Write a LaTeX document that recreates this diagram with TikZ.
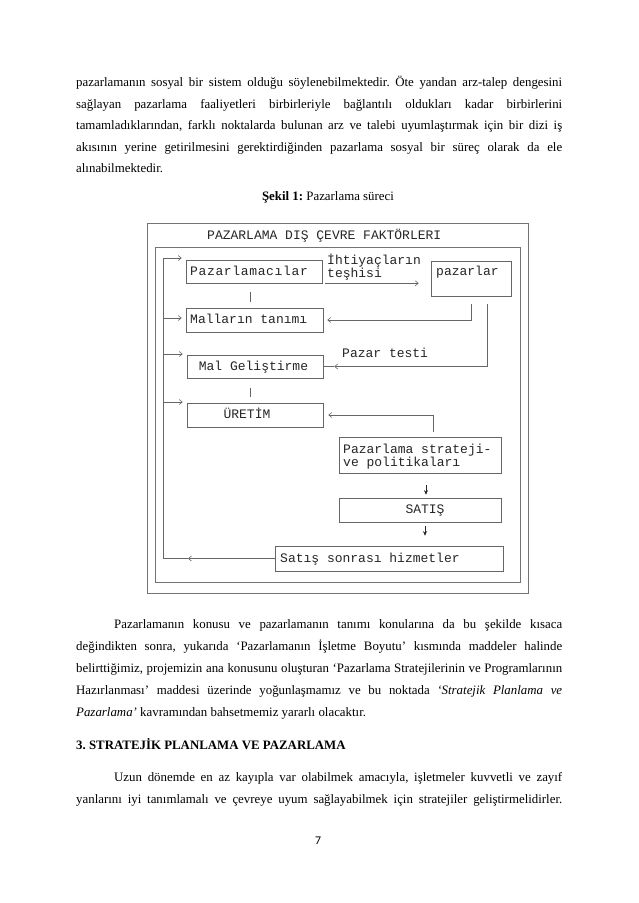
\documentclass[tikz,border=0pt]{standalone}
\usepackage{fontspec}
\setmainfont{Liberation Serif}
\newfontfamily\monofnt{Liberation Mono}
\newfontfamily\pgfnt{Carlito}
\usetikzlibrary{arrows.meta}
\frenchspacing
\newcommand\mybody{\fontsize{12.87pt}{15pt}\selectfont}
\newcommand\mymono{\monofnt\fontsize{13pt}{13pt}\selectfont}
\newcommand\jl[2]{\hbox to #1{\spaceskip=0.25em plus 2em minus 0.12em\relax #2}}
\begin{document}
\begin{tikzpicture}[x=1pt,y=-1pt,
  txt/.style={anchor=base west, inner sep=0pt, font=\mybody},
  fr/.style={draw=black!55, line width=0.6pt},
  box/.style={draw=black!60, line width=0.6pt, inner sep=0pt},
  dtxt/.style={anchor=base west, font=\mymono, text=black!85, inner sep=0pt},
  arr/.style={draw=black!60, line width=0.6pt, -{Straight Barb[length=3pt,width=5pt]}},
  darr/.style={draw=black!85, line width=0.9pt, -{Stealth[length=4.5pt,width=4pt]}},
  ln/.style={draw=black!60, line width=0.6pt}]
\useasboundingbox (0,0) rectangle (638,903);
\fill[white] (0,0) rectangle (638,903);

% paragraph 1
\node[txt] (a1) at (76,86.5) {\jl{486pt}{pazarlamanın sosyal bir sistem olduğu söylenebilmektedir. Öte yandan arz-talep dengesini}};
\node[txt] (a2) at (76,108) {\jl{486pt}{sağlayan pazarlama faaliyetleri birbirleriyle bağlantılı oldukları kadar birbirlerini}};
\node[txt] (a3) at (76,129.5) {\jl{486pt}{tamamladıklarından, farklı noktalarda bulunan arz ve talebi uyumlaştırmak için bir dizi iş}};
\node[txt] (a4) at (76,151) {\jl{486pt}{akısının yerine getirilmesini gerektirdiğinden pazarlama sosyal bir süreç olarak da ele}};
\node[txt] (a5) at (76,172.5) {alınabilmektedir.};

% caption
\node[anchor=base, inner sep=0pt, font=\mybody] (cap) at (328,200.5) {\textbf{Şekil 1:} Pazarlama süreci};

% frames
\draw[fr] (147,223) rectangle (528,593);
\draw[fr] (155,247) rectangle (520,582);
\node[dtxt] (title) at (207,239.5) {PAZARLAMA DIŞ ÇEVRE FAKTÖRLERI};

% boxes
\node[box, minimum width=136pt, minimum height=23pt] (pzc) at (254,271.5) {};
\node[box, minimum width=137pt, minimum height=24pt] (mal) at (254.5,320) {};
\node[box, minimum width=136pt, minimum height=23pt] (gel) at (255,366.5) {};
\node[box, minimum width=136pt, minimum height=24pt] (ure) at (255,415) {};
\node[box, minimum width=80pt, minimum height=35pt] (paz) at (471,278.5) {};
\node[box, minimum width=162pt, minimum height=36pt] (str) at (420,455) {};
\node[box, minimum width=162pt, minimum height=24pt] (sat) at (420,510) {};
\node[box, minimum width=228pt, minimum height=25pt] (hiz) at (389,558.5) {};

% box texts
\node[dtxt] (tpzc) at (190,275.5) {\addfontfeature{LetterSpace=5}Pazarlamacılar};
\node[dtxt] (tmal) at (190,323.5) {Malların tanımı};
\node[dtxt, anchor=base] (tgel) at (253.5,370) {Mal Geliştirme};
\node[dtxt, anchor=base] (ture) at (247,418.5) {ÜRETİM};
\node[dtxt] (tpaz) at (436,275.5) {pazarlar};
\node[dtxt] (tstr1) at (343,453.5) {Pazarlama strateji-};
\node[dtxt] (tstr2) at (343,466) {ve politikaları};
\node[dtxt, anchor=base] (tsat) at (425,513.5) {SATIŞ};
\node[dtxt] (thiz) at (280,562) {Satış sonrası hizmetler};
\node[dtxt] (tiht1) at (327,264.5) {İhtiyaçların};
\node[dtxt] (tiht2) at (327,277) {teşhisi};
\node[dtxt] (ttest) at (342,357.5) {Pazar testi};

% connectors
\draw[arr] ([xshift=3pt]pzc.south east) -- ([xshift=-12pt]paz.west |- pzc.south east);
\draw[arr] ([yshift=-8pt]paz.south) |- ([xshift=4pt]mal.east);
\draw[arr] ([xshift=16pt,yshift=-8pt]paz.south) |- ([xshift=11pt]gel.east);
\draw[ln] ([xshift=11pt]gel.east) -- (gel.east);
\draw[arr] ([xshift=13pt,yshift=5pt]str.north) |- ([xshift=5pt]ure.east);
\draw[ln] ([xshift=-4pt,yshift=-9pt]pzc.south) -- ([xshift=-4.5pt,yshift=6pt]mal.north);
\draw[ln] ([xshift=-5pt,yshift=-10pt]gel.south) -- ([xshift=-5pt,yshift=6pt]ure.north);
\draw[darr] ([xshift=6pt,yshift=-12pt]str.south) -- ([xshift=6pt,yshift=3pt]sat.north);
\draw[darr] ([xshift=5pt,yshift=-4pt]sat.south) -- ([xshift=5pt,yshift=10pt]sat.south |- hiz.north);

% feedback loop
\coordinate (fb0) at (163,558.5);
\coordinate (fbt) at (163,258);
\coordinate (fb2) at (163,318);
\coordinate (fb3) at (163,354);
\coordinate (fb4) at (163,402);
\coordinate (fbm) at (188,558.5);
\draw[arr] (hiz.west) -- (fbm);
\draw[ln] (fbm) -- (fb0) -- (fbt);
\draw[arr] (fbt) -- ([xshift=-4pt]fbt -| pzc.west);
\draw[arr] (fb2) -- ([xshift=-4pt]fb2 -| mal.west);
\draw[arr] (fb3) -- ([xshift=-4pt]fb3 -| gel.west);
\draw[arr] (fb4) -- ([xshift=-4pt]fb4 -| ure.west);

% paragraph 2
\node[txt] (b1) at (114,628.5) {\jl{448pt}{Pazarlamanın konusu ve pazarlamanın tanımı konularına da bu şekilde kısaca}};
\node[txt] (b2) at (76,650.5) {\jl{486pt}{değindikten sonra, yukarıda ‘Pazarlamanın İşletme Boyutu’ kısmında maddeler halinde}};
\node[txt] (b3) at (76,672.5) {\jl{486pt}{belirttiğimiz, projemizin ana konusunu oluşturan ‘Pazarlama Stratejilerinin ve Programlarının}};
\node[txt] (b4) at (76,694.5) {\jl{486pt}{Hazırlanması’ maddesi üzerinde yoğunlaşmamız ve bu noktada \textit{‘Stratejik Planlama ve}}};
\node[txt] (b5) at (76,716.5) {\textit{Pazarlama’} kavramından bahsetmemiz yararlı olacaktır.};

% heading
\node[txt] (h3) at (76,749.5) {\textbf{3. STRATEJİK PLANLAMA VE PAZARLAMA}};

% paragraph 3
\node[txt] (c1) at (114,781.5) {\jl{448pt}{Uzun dönemde en az kayıpla var olabilmek amacıyla, işletmeler kuvvetli ve zayıf}};
\node[txt] (c2) at (76,803.5) {\jl{486pt}{yanlarını iyi tanımlamalı ve çevreye uyum sağlayabilmek için stratejiler geliştirmelidirler.}};

% page number
\node[anchor=base, inner sep=0pt, font=\pgfnt\fontsize{11.8pt}{12pt}\selectfont] (pg) at (318,844) {7};
\end{tikzpicture}
\end{document}
